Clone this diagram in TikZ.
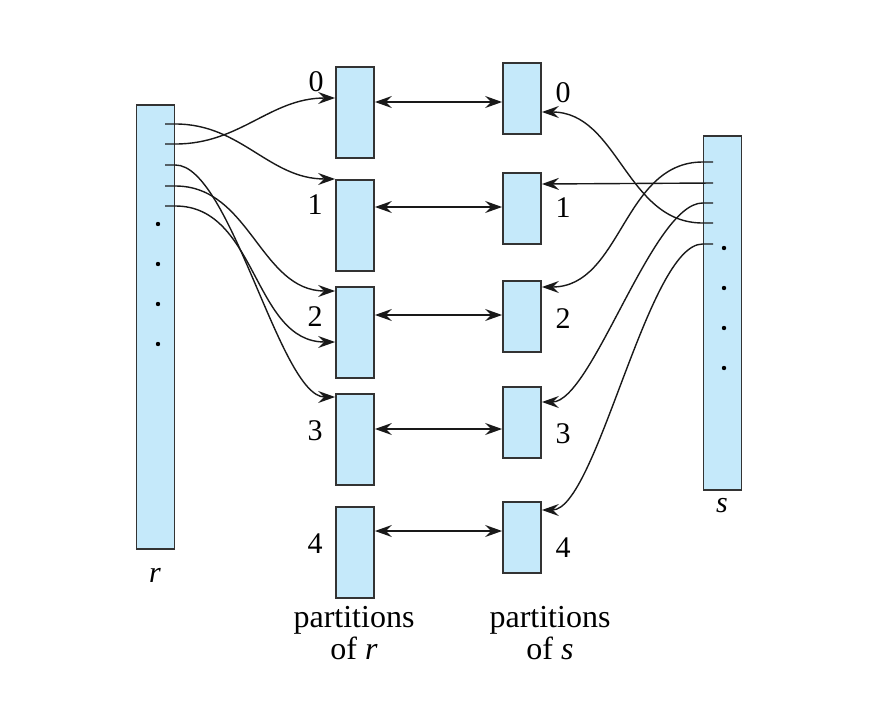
\documentclass[tikz,border=0pt]{standalone}
\usepackage{fontspec}
\setmainfont{Liberation Serif}
\usepackage{xcolor}
\usetikzlibrary{positioning,arrows.meta}
\definecolor{part}{HTML}{C5E9FA}
\definecolor{edge}{HTML}{333333}

\begin{document}
\begin{tikzpicture}[x=0.5pt, y=-0.5pt,
  relbar/.style={draw=edge, fill=part, line width=0.9pt, minimum width=19pt, inner sep=0pt},
  rpart/.style={relbar, minimum height=45.5pt},
  spart/.style={relbar, minimum height=35.5pt},
  link/.style={line width=0.7pt, black!90},
  arr/.style={-{Stealth[length=8.5pt, width=6pt, inset=3pt]}},
  dbl/.style={{Stealth[length=8.5pt, width=6pt, inset=3pt]}-{Stealth[length=8.5pt, width=6pt, inset=3pt]}},
  lbl/.style={font=\fontsize{15}{14}\selectfont, inner sep=0pt}]
\useasboundingbox (0,0) rectangle (893,702);
% relations r and s
\node[relbar, minimum height=222pt] (r) at (155.5,327) {};
\node[relbar, minimum height=177pt] (s) at (722.5,313) {};
\node[lbl, font=\fontsize{15}{14}\selectfont\itshape] (rname) at (155,575) {r};
\node[lbl, font=\fontsize{15}{14}\selectfont\itshape] (sname) at (722,506) {s};
\fill (158,224) circle[radius=1.1pt];
\fill (158,264) circle[radius=1.1pt];
\fill (158,304) circle[radius=1.1pt];
\fill (158,344) circle[radius=1.1pt];
\fill (724,248) circle[radius=1.1pt];
\fill (724,288) circle[radius=1.1pt];
\fill (724,328) circle[radius=1.1pt];
\fill (724,368) circle[radius=1.1pt];
\coordinate (rt1) at (165,124);
\coordinate (rt2) at (165,144);
\coordinate (rt3) at (165,165);
\coordinate (rt4) at (165,186);
\coordinate (rt5) at (165,206);
\coordinate (st1) at (713,162);
\coordinate (st2) at (713,183);
\coordinate (st3) at (713,203);
\coordinate (st4) at (713,223);
\coordinate (st5) at (713,244);
% partitions of r
\node[rpart] (pr0) at (355,112.5) {};
\node[rpart] (pr1) at (355,225.5) {};
\node[rpart] (pr2) at (355,332.5) {};
\node[rpart] (pr3) at (355,439.5) {};
\node[rpart] (pr4) at (355,552.5) {};
\node[lbl] (nr0) at (316,82) {0};
\node[lbl] (nr1) at (315,205) {1};
\node[lbl] (nr2) at (315,317) {2};
\node[lbl] (nr3) at (315,431) {3};
\node[lbl] (nr4) at (315,544) {4};
\node[lbl, font=\fontsize{16}{14}\selectfont, align=center] (rparts) at (354,633) {partitions\\of \textit{r}};
% partitions of s
\node[spart] (ps0) at (522,98.5) {};
\node[spart] (ps1) at (522,208.5) {};
\node[spart] (ps2) at (522,316.5) {};
\node[spart] (ps3) at (522,422.5) {};
\node[spart] (ps4) at (522,537.5) {};
\node[lbl] (ns0) at (563,93) {0};
\node[lbl] (ns1) at (563,208) {1};
\node[lbl] (ns2) at (563,319) {2};
\node[lbl] (ns3) at (563,434) {3};
\node[lbl] (ns4) at (563,548) {4};
\node[lbl, font=\fontsize{16}{14}\selectfont, align=center] (sparts) at (550,633) {partitions\\of \textit{s}};
% r tuples into partitions
\draw[link, arr] (rt1) -- (rt1 -| r.east) to[out=0, in=180] (pr1.west |- 0,179);
\draw[link, arr] (rt2) -- (rt2 -| r.east) to[out=0, in=180] (pr0.west |- 0,98);
\draw[link, arr] (rt3) -- (rt3 -| r.east) to[out=0, in=180, looseness=0.5] (pr3.west |- 0,397);
\draw[link, arr] (rt4) -- (rt4 -| r.east) to[out=0, in=180] (pr2.west |- 0,291);
\draw[link, arr] (rt5) -- (rt5 -| r.east) to[out=0, in=180] (pr2.west |- 0,342);
% s tuples into partitions
\draw[link, arr] (st1) -- (st1 -| s.west) to[out=180, in=0] (ps2.east |- 0,287);
\draw[link, arr] (st2) -- (ps1.east |- 0,184);
\draw[link, arr] (st3) -- (st3 -| s.west) to[out=180, in=0, looseness=0.5] (ps3.east |- 0,402);
\draw[link, arr] (st4) -- (st4 -| s.west) to[out=180, in=0] (ps0.east |- 0,112);
\draw[link, arr] (st5) -- (st5 -| s.west) to[out=180, in=0, looseness=0.45] (ps4.east |- 0,510);
% matching partitions
\draw[link, dbl] (pr0.east |- 0,102) -- (ps0.west |- 0,102);
\draw[link, dbl] (pr1.east |- 0,207) -- (ps1.west |- 0,207);
\draw[link, dbl] (pr2.east |- 0,315) -- (ps2.west |- 0,315);
\draw[link, dbl] (pr3.east |- 0,429) -- (ps3.west |- 0,429);
\draw[link, dbl] (pr4.east |- 0,531) -- (ps4.west |- 0,531);
\end{tikzpicture}
\end{document}
